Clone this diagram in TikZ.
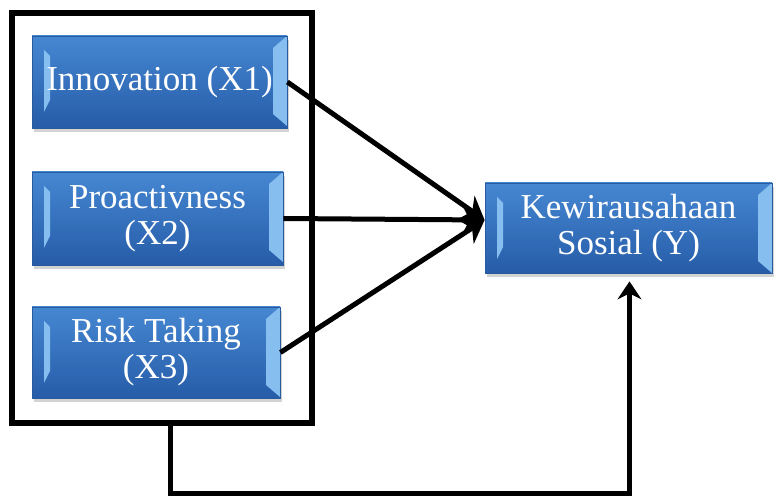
\documentclass[tikz,border=0pt]{standalone}
\usepackage{fontspec}
\setmainfont{Liberation Serif}
\usetikzlibrary{arrows.meta,shadows}
\begin{document}
\begin{tikzpicture}[x=1pt,y=1pt,
    varbox/.style={shape=rectangle,draw=kw_edge,line width=0.8pt,top color=kw_top,bottom color=kw_bot,
      text=white,align=center,font=\fontsize{35}{36}\selectfont,inner sep=0pt,
      drop shadow={opacity=0.35,shadow xshift=2pt,shadow yshift=-4pt},
      path picture={
        \fill[kw_bevel] (path picture bounding box.north west) ++(12,-14) -- ++(6,-6) -- ++(0,-44) -- ++(-6,-12) -- cycle;
        \fill[kw_bevel] (path picture bounding box.north east) -- ++(-14,-12) -- ++(0,-66) -- ++(14,-12) -- cycle;
      }},
    link/.style={line width=5pt,-{Stealth[length=22pt,width=28pt,inset=7pt]}}]
    \definecolor{kw_top}{RGB}{70,135,210}
    \definecolor{kw_bot}{RGB}{38,92,168}
    \definecolor{kw_edge}{RGB}{40,90,160}
    \definecolor{kw_bevel}{RGB}{135,190,240}
    \useasboundingbox (0,0) rectangle (774,497);
    \node[shape=rectangle,draw,line width=5.5pt,minimum width=300pt,minimum height=410pt] (frame) at (162,279) {};
    \node[varbox,minimum width=255pt,minimum height=92pt] (inov) at (159.5,415) {Innovation (X1)};
    \node[varbox,minimum width=251pt,minimum height=93pt] (proa) at (157.5,278.5) {Proactivness\\(X2)};
    \node[varbox,minimum width=248pt,minimum height=91pt] (risk) at (156,144.5) {Risk Taking\\(X3)};
    \node[varbox,minimum width=287pt,minimum height=90pt] (kews) at (628.5,269) {Kewirausahaan\\Sosial (Y)};
    \draw[link] (inov.east) -- ([yshift=8pt]kews.west);
    \draw[link] (proa.east) -- ([yshift=8pt]kews.west);
    \draw[link] (risk.east) -- ([yshift=8pt]kews.west);
    \coordinate (down) at (170,3);
    \draw[line width=5pt,-{Stealth[length=18pt,width=24pt,inset=6pt]}] (frame.south -| down) -- (down) -| ([xshift=1pt,yshift=-8pt]kews.south);
\end{tikzpicture}
\end{document}
